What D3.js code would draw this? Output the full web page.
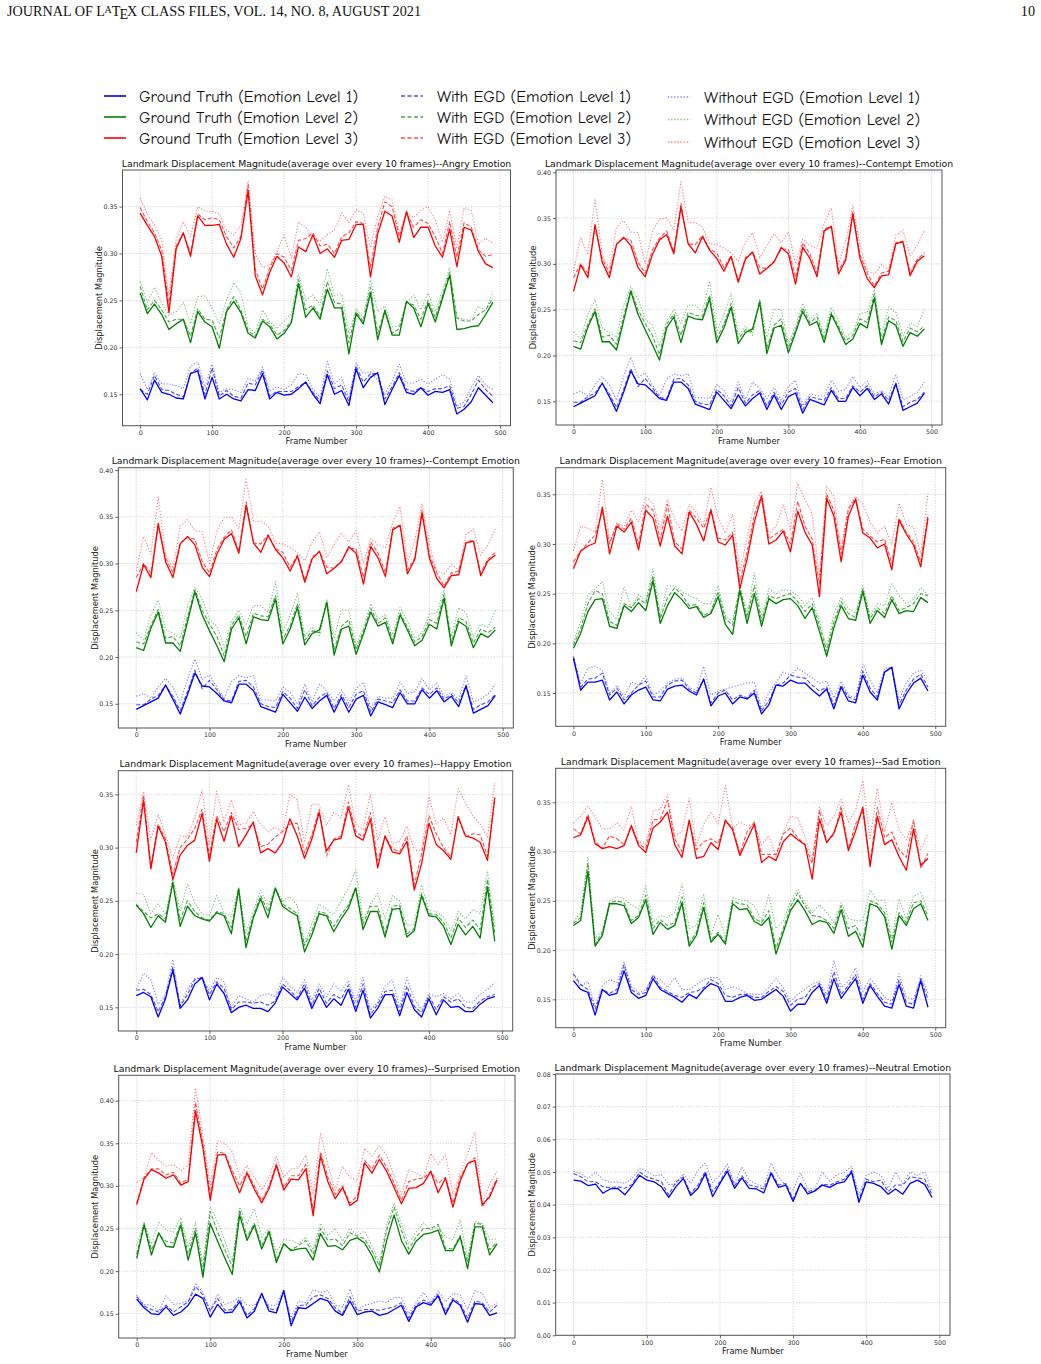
<!DOCTYPE html>
<html>
<head>
<meta charset="utf-8">
<script src="https://cdn.jsdelivr.net/npm/d3@7"></script>
<style>
  body { margin: 0; background: #fff; }
  svg { display: block; }
</style>
</head>
<body>
<svg id="fig" width="1041" height="1364"></svg>
<script>
// frame numbers (one point every 10 frames)
const frames = [0,10,20,30,40,50,60,70,80,90,100,110,120,130,140,150,160,170,180,190,200,210,220,230,240,250,260,270,280,290,300,310,320,330,340,350,360,370,380,390,400,410,420,430,440,450,460,470,480,490];
const xTicks = [0, 100, 200, 300, 400, 500];
const yTicks35 = [0.15, 0.20, 0.25, 0.30, 0.35];
const yTicks40 = [0.15, 0.20, 0.25, 0.30, 0.35, 0.40];
const yTicksNeutral = [0.00, 0.01, 0.02, 0.03, 0.04, 0.05, 0.06, 0.07, 0.08];

const legendLabels = [
  ["Ground Truth (Emotion Level 1)", "Ground Truth (Emotion Level 2)", "Ground Truth (Emotion Level 3)"],
  ["With EGD (Emotion Level 1)", "With EGD (Emotion Level 2)", "With EGD (Emotion Level 3)"],
  ["Without EGD (Emotion Level 1)", "Without EGD (Emotion Level 2)", "Without EGD (Emotion Level 3)"]
];

// ---- Angry
const angryTruth1 = [0.156,0.144,0.165,0.152,0.150,0.146,0.145,0.172,0.175,0.145,0.168,0.145,0.150,0.145,0.143,0.155,0.154,0.172,0.145,0.152,0.149,0.150,0.156,0.163,0.150,0.140,0.171,0.150,0.154,0.138,0.177,0.157,0.168,0.173,0.139,0.155,0.170,0.152,0.150,0.157,0.149,0.153,0.152,0.155,0.129,0.134,0.142,0.157,0.149,0.141];
const angryWith1 = [0.155,0.150,0.170,0.155,0.154,0.150,0.147,0.172,0.178,0.150,0.178,0.148,0.154,0.148,0.146,0.162,0.160,0.176,0.148,0.153,0.153,0.153,0.158,0.163,0.152,0.143,0.175,0.156,0.160,0.142,0.180,0.163,0.172,0.172,0.145,0.158,0.173,0.155,0.153,0.157,0.153,0.156,0.156,0.159,0.135,0.137,0.150,0.165,0.155,0.148];
const angryWithout1 = [0.172,0.155,0.173,0.161,0.161,0.159,0.156,0.180,0.184,0.158,0.182,0.152,0.156,0.155,0.152,0.167,0.164,0.179,0.153,0.158,0.155,0.160,0.172,0.171,0.155,0.147,0.185,0.161,0.168,0.146,0.183,0.172,0.174,0.165,0.150,0.164,0.182,0.162,0.162,0.166,0.161,0.166,0.171,0.166,0.137,0.142,0.157,0.170,0.160,0.155];
const angryTruth2 = [0.258,0.236,0.246,0.235,0.219,0.225,0.230,0.205,0.238,0.227,0.222,0.199,0.238,0.249,0.237,0.215,0.210,0.228,0.222,0.209,0.215,0.226,0.268,0.232,0.242,0.230,0.262,0.242,0.242,0.193,0.236,0.225,0.258,0.208,0.239,0.213,0.213,0.249,0.242,0.222,0.247,0.227,0.252,0.277,0.219,0.220,0.222,0.223,0.235,0.248];
const angryWith2 = [0.265,0.240,0.250,0.240,0.227,0.230,0.230,0.212,0.241,0.230,0.229,0.210,0.240,0.254,0.240,0.218,0.212,0.230,0.225,0.213,0.218,0.228,0.272,0.240,0.245,0.233,0.270,0.248,0.246,0.205,0.238,0.228,0.264,0.215,0.240,0.215,0.220,0.248,0.245,0.230,0.250,0.232,0.255,0.280,0.231,0.228,0.228,0.235,0.240,0.252];
const angryWithout2 = [0.270,0.248,0.264,0.247,0.234,0.238,0.248,0.225,0.254,0.255,0.242,0.225,0.250,0.269,0.258,0.222,0.215,0.240,0.227,0.220,0.228,0.236,0.278,0.250,0.256,0.245,0.284,0.255,0.257,0.215,0.241,0.232,0.272,0.238,0.244,0.222,0.223,0.248,0.256,0.240,0.258,0.238,0.260,0.285,0.232,0.230,0.230,0.244,0.239,0.259];
const angryTruth3 = [0.343,0.330,0.318,0.297,0.237,0.305,0.322,0.297,0.340,0.330,0.330,0.331,0.310,0.296,0.316,0.367,0.276,0.256,0.280,0.297,0.290,0.275,0.307,0.302,0.320,0.300,0.305,0.296,0.314,0.315,0.331,0.331,0.275,0.321,0.345,0.340,0.312,0.345,0.317,0.328,0.328,0.308,0.296,0.326,0.286,0.328,0.325,0.302,0.289,0.285];
const angryWith3 = [0.349,0.334,0.322,0.303,0.245,0.308,0.322,0.300,0.342,0.336,0.338,0.336,0.318,0.306,0.318,0.373,0.283,0.262,0.285,0.300,0.296,0.282,0.314,0.316,0.322,0.308,0.310,0.300,0.318,0.322,0.334,0.332,0.285,0.328,0.355,0.350,0.318,0.343,0.328,0.336,0.332,0.318,0.300,0.334,0.296,0.333,0.328,0.304,0.297,0.299];
const angryWithout3 = [0.359,0.342,0.330,0.315,0.255,0.315,0.334,0.318,0.350,0.345,0.345,0.342,0.325,0.320,0.330,0.377,0.300,0.285,0.288,0.302,0.320,0.295,0.334,0.328,0.316,0.313,0.320,0.325,0.343,0.333,0.347,0.343,0.306,0.340,0.361,0.357,0.322,0.344,0.338,0.346,0.350,0.336,0.312,0.346,0.305,0.349,0.346,0.310,0.316,0.311];

// ---- Contempt
const contemptTruth1 = [0.144,0.148,0.152,0.156,0.170,0.155,0.139,0.160,0.183,0.169,0.168,0.161,0.153,0.151,0.171,0.171,0.164,0.147,0.144,0.141,0.160,0.151,0.142,0.157,0.145,0.153,0.159,0.141,0.157,0.141,0.155,0.159,0.137,0.152,0.149,0.146,0.162,0.150,0.150,0.165,0.156,0.164,0.152,0.158,0.147,0.169,0.140,0.144,0.148,0.159];
const contemptWith1 = [0.149,0.149,0.155,0.159,0.170,0.158,0.143,0.163,0.186,0.166,0.175,0.165,0.154,0.153,0.174,0.175,0.168,0.150,0.147,0.146,0.163,0.156,0.145,0.165,0.148,0.157,0.162,0.145,0.160,0.146,0.160,0.164,0.141,0.155,0.153,0.151,0.165,0.153,0.153,0.167,0.160,0.167,0.155,0.160,0.151,0.170,0.144,0.149,0.152,0.160];
const contemptWithout1 = [0.158,0.161,0.156,0.168,0.177,0.168,0.151,0.177,0.198,0.176,0.181,0.168,0.156,0.174,0.180,0.178,0.180,0.154,0.154,0.153,0.168,0.162,0.150,0.171,0.152,0.171,0.164,0.153,0.165,0.151,0.166,0.173,0.145,0.158,0.156,0.156,0.173,0.161,0.163,0.177,0.165,0.172,0.158,0.162,0.155,0.180,0.152,0.155,0.160,0.171];
const contemptTruth2 = [0.210,0.207,0.231,0.248,0.215,0.215,0.206,0.238,0.270,0.245,0.228,0.212,0.195,0.230,0.242,0.214,0.243,0.240,0.239,0.262,0.214,0.230,0.253,0.213,0.225,0.229,0.258,0.202,0.230,0.233,0.203,0.225,0.248,0.233,0.237,0.214,0.245,0.229,0.212,0.218,0.235,0.230,0.263,0.212,0.238,0.233,0.210,0.225,0.221,0.229];
const contemptWith2 = [0.216,0.214,0.234,0.251,0.220,0.222,0.212,0.243,0.272,0.250,0.235,0.222,0.201,0.234,0.245,0.222,0.247,0.244,0.243,0.266,0.219,0.234,0.257,0.218,0.228,0.226,0.260,0.208,0.233,0.240,0.208,0.228,0.252,0.236,0.242,0.218,0.247,0.232,0.216,0.222,0.240,0.236,0.267,0.216,0.242,0.238,0.215,0.230,0.226,0.232];
const contemptWithout2 = [0.226,0.218,0.245,0.261,0.230,0.225,0.220,0.255,0.275,0.262,0.240,0.233,0.210,0.238,0.250,0.235,0.255,0.255,0.248,0.281,0.226,0.245,0.268,0.222,0.232,0.222,0.262,0.220,0.251,0.250,0.213,0.232,0.257,0.240,0.246,0.224,0.253,0.238,0.220,0.226,0.246,0.247,0.272,0.222,0.253,0.247,0.222,0.235,0.232,0.250];
const contemptTruth3 = [0.270,0.299,0.285,0.343,0.302,0.285,0.321,0.329,0.320,0.296,0.286,0.310,0.326,0.332,0.311,0.362,0.322,0.312,0.330,0.315,0.306,0.292,0.308,0.280,0.305,0.313,0.289,0.295,0.302,0.318,0.311,0.278,0.318,0.306,0.286,0.336,0.341,0.289,0.304,0.354,0.306,0.284,0.274,0.287,0.288,0.322,0.324,0.287,0.303,0.309];
const contemptWith3 = [0.285,0.300,0.290,0.340,0.306,0.290,0.322,0.328,0.326,0.302,0.290,0.315,0.328,0.336,0.313,0.366,0.322,0.321,0.331,0.316,0.312,0.296,0.309,0.282,0.307,0.313,0.296,0.295,0.303,0.316,0.316,0.285,0.323,0.311,0.290,0.338,0.341,0.293,0.306,0.357,0.310,0.290,0.276,0.290,0.292,0.323,0.325,0.290,0.305,0.312];
const contemptWithout3 = [0.292,0.329,0.310,0.371,0.310,0.295,0.340,0.347,0.335,0.334,0.300,0.335,0.349,0.350,0.337,0.390,0.345,0.345,0.340,0.322,0.321,0.317,0.312,0.303,0.323,0.334,0.307,0.320,0.333,0.323,0.335,0.300,0.327,0.320,0.317,0.344,0.361,0.300,0.325,0.364,0.320,0.292,0.289,0.299,0.293,0.331,0.337,0.309,0.320,0.337];

// ---- Fear
const fearTruth1 = [0.185,0.153,0.161,0.161,0.163,0.143,0.151,0.139,0.148,0.153,0.156,0.143,0.142,0.154,0.157,0.158,0.152,0.148,0.164,0.137,0.147,0.150,0.139,0.146,0.144,0.150,0.129,0.138,0.158,0.157,0.163,0.160,0.160,0.153,0.147,0.154,0.134,0.156,0.142,0.140,0.168,0.151,0.143,0.171,0.176,0.134,0.149,0.160,0.165,0.152];
const fearWith1 = [0.186,0.156,0.164,0.165,0.170,0.148,0.155,0.143,0.150,0.158,0.162,0.146,0.146,0.158,0.162,0.163,0.154,0.150,0.164,0.140,0.150,0.153,0.143,0.148,0.145,0.153,0.132,0.142,0.158,0.160,0.168,0.166,0.165,0.158,0.152,0.156,0.138,0.158,0.146,0.143,0.172,0.155,0.146,0.171,0.176,0.138,0.153,0.164,0.169,0.156];
const fearWithout1 = [0.187,0.160,0.175,0.177,0.173,0.150,0.158,0.146,0.161,0.158,0.167,0.148,0.152,0.160,0.164,0.165,0.156,0.152,0.177,0.148,0.152,0.154,0.156,0.158,0.160,0.161,0.134,0.150,0.161,0.171,0.168,0.175,0.170,0.165,0.160,0.162,0.145,0.162,0.148,0.145,0.179,0.163,0.150,0.175,0.176,0.143,0.160,0.170,0.173,0.163];
const fearTruth2 = [0.195,0.210,0.232,0.244,0.245,0.217,0.215,0.238,0.232,0.241,0.233,0.263,0.220,0.238,0.251,0.244,0.235,0.237,0.226,0.230,0.247,0.219,0.209,0.253,0.220,0.250,0.217,0.245,0.240,0.244,0.245,0.238,0.225,0.236,0.212,0.187,0.216,0.238,0.225,0.223,0.252,0.220,0.233,0.226,0.244,0.230,0.233,0.232,0.246,0.241];
const fearWith2 = [0.198,0.215,0.240,0.253,0.250,0.222,0.218,0.240,0.236,0.245,0.240,0.268,0.225,0.246,0.256,0.249,0.238,0.239,0.228,0.232,0.252,0.225,0.218,0.256,0.226,0.258,0.222,0.248,0.245,0.248,0.250,0.242,0.232,0.240,0.218,0.192,0.222,0.242,0.230,0.226,0.255,0.225,0.236,0.230,0.248,0.233,0.236,0.240,0.250,0.248];
const fearWithout2 = [0.201,0.222,0.248,0.255,0.262,0.232,0.224,0.257,0.236,0.249,0.243,0.275,0.228,0.258,0.258,0.252,0.248,0.245,0.240,0.240,0.258,0.228,0.222,0.258,0.228,0.271,0.226,0.255,0.250,0.254,0.253,0.248,0.238,0.246,0.222,0.196,0.230,0.246,0.235,0.230,0.258,0.228,0.240,0.238,0.260,0.248,0.240,0.244,0.256,0.249];
const fearTruth3 = [0.275,0.293,0.298,0.301,0.337,0.290,0.318,0.312,0.322,0.294,0.334,0.326,0.298,0.328,0.298,0.290,0.332,0.320,0.303,0.334,0.302,0.299,0.309,0.255,0.285,0.322,0.348,0.300,0.304,0.313,0.292,0.333,0.312,0.299,0.247,0.346,0.328,0.282,0.328,0.345,0.311,0.306,0.296,0.300,0.274,0.324,0.310,0.299,0.277,0.326];
const fearWith3 = [0.282,0.293,0.301,0.309,0.333,0.300,0.320,0.315,0.326,0.300,0.340,0.334,0.305,0.340,0.302,0.295,0.334,0.326,0.316,0.335,0.306,0.304,0.312,0.262,0.292,0.330,0.349,0.305,0.310,0.315,0.300,0.343,0.318,0.305,0.260,0.350,0.334,0.290,0.335,0.346,0.315,0.308,0.302,0.305,0.280,0.326,0.312,0.302,0.282,0.330];
const fearWithout3 = [0.293,0.318,0.316,0.312,0.365,0.302,0.321,0.318,0.334,0.322,0.347,0.341,0.314,0.345,0.325,0.313,0.340,0.332,0.320,0.357,0.327,0.311,0.330,0.272,0.306,0.341,0.353,0.310,0.318,0.340,0.315,0.361,0.345,0.330,0.268,0.358,0.348,0.295,0.337,0.348,0.340,0.322,0.311,0.318,0.300,0.341,0.320,0.317,0.290,0.351];

// ---- Happy
const happyTruth1 = [0.161,0.164,0.160,0.141,0.158,0.185,0.149,0.157,0.172,0.178,0.157,0.172,0.163,0.145,0.150,0.152,0.149,0.149,0.146,0.154,0.169,0.163,0.157,0.168,0.149,0.163,0.150,0.158,0.152,0.167,0.146,0.166,0.140,0.149,0.162,0.162,0.142,0.164,0.148,0.141,0.158,0.143,0.157,0.150,0.151,0.146,0.146,0.153,0.158,0.160];
const happyWith1 = [0.166,0.167,0.162,0.146,0.160,0.188,0.151,0.162,0.176,0.178,0.162,0.174,0.168,0.148,0.155,0.155,0.154,0.155,0.152,0.156,0.172,0.166,0.159,0.172,0.152,0.168,0.154,0.162,0.158,0.171,0.150,0.172,0.143,0.153,0.165,0.166,0.146,0.170,0.151,0.145,0.161,0.148,0.160,0.155,0.158,0.150,0.149,0.156,0.160,0.162];
const happyWithout1 = [0.167,0.182,0.176,0.153,0.162,0.195,0.152,0.167,0.177,0.178,0.166,0.178,0.174,0.150,0.161,0.158,0.155,0.161,0.163,0.160,0.178,0.170,0.164,0.176,0.157,0.172,0.160,0.172,0.165,0.175,0.156,0.178,0.147,0.155,0.170,0.176,0.150,0.178,0.158,0.148,0.163,0.160,0.163,0.158,0.163,0.155,0.155,0.162,0.167,0.173];
const happyTruth2 = [0.246,0.238,0.225,0.236,0.230,0.267,0.226,0.245,0.236,0.233,0.231,0.239,0.236,0.219,0.261,0.206,0.234,0.252,0.234,0.262,0.245,0.240,0.236,0.202,0.218,0.238,0.236,0.221,0.233,0.243,0.262,0.223,0.240,0.240,0.216,0.242,0.243,0.216,0.222,0.255,0.236,0.235,0.226,0.209,0.228,0.218,0.226,0.215,0.263,0.212];
const happyWith2 = [0.247,0.240,0.234,0.238,0.233,0.268,0.232,0.250,0.240,0.234,0.232,0.240,0.238,0.225,0.262,0.212,0.236,0.255,0.240,0.262,0.247,0.243,0.238,0.208,0.222,0.240,0.238,0.226,0.237,0.246,0.263,0.228,0.245,0.245,0.220,0.245,0.246,0.219,0.224,0.257,0.238,0.237,0.230,0.215,0.234,0.225,0.232,0.223,0.270,0.220];
const happyWithout2 = [0.257,0.256,0.238,0.247,0.237,0.272,0.240,0.266,0.248,0.238,0.236,0.255,0.239,0.235,0.262,0.220,0.240,0.260,0.246,0.262,0.250,0.254,0.246,0.210,0.228,0.247,0.242,0.237,0.250,0.262,0.279,0.232,0.247,0.257,0.233,0.255,0.250,0.227,0.228,0.265,0.241,0.240,0.235,0.222,0.240,0.233,0.242,0.238,0.278,0.226];
const happyTruth3 = [0.295,0.344,0.280,0.320,0.305,0.270,0.293,0.302,0.307,0.332,0.287,0.327,0.306,0.330,0.301,0.312,0.324,0.295,0.299,0.295,0.305,0.327,0.311,0.290,0.308,0.333,0.297,0.307,0.309,0.338,0.311,0.307,0.327,0.281,0.311,0.296,0.294,0.306,0.260,0.285,0.323,0.303,0.297,0.289,0.329,0.311,0.309,0.305,0.288,0.347];
const happyWith3 = [0.305,0.349,0.283,0.322,0.308,0.275,0.300,0.308,0.318,0.336,0.293,0.330,0.315,0.333,0.317,0.318,0.322,0.301,0.303,0.310,0.315,0.322,0.323,0.295,0.312,0.336,0.292,0.308,0.311,0.343,0.315,0.310,0.333,0.288,0.310,0.299,0.296,0.311,0.265,0.294,0.330,0.313,0.300,0.291,0.328,0.310,0.313,0.312,0.292,0.346];
const happyWithout3 = [0.321,0.353,0.307,0.331,0.312,0.290,0.311,0.310,0.328,0.354,0.303,0.353,0.324,0.345,0.321,0.323,0.334,0.322,0.315,0.319,0.315,0.350,0.345,0.305,0.341,0.340,0.321,0.333,0.328,0.359,0.322,0.317,0.350,0.307,0.329,0.304,0.306,0.320,0.297,0.298,0.348,0.322,0.328,0.312,0.355,0.342,0.330,0.322,0.310,0.361];

// ---- Sad
const sadTruth1 = [0.169,0.160,0.157,0.134,0.160,0.154,0.156,0.179,0.157,0.151,0.154,0.171,0.160,0.156,0.152,0.147,0.155,0.151,0.160,0.166,0.163,0.148,0.148,0.152,0.154,0.149,0.150,0.155,0.160,0.153,0.138,0.145,0.145,0.157,0.164,0.146,0.171,0.151,0.161,0.171,0.146,0.164,0.153,0.143,0.141,0.165,0.143,0.141,0.169,0.142];
const sadWith1 = [0.176,0.165,0.160,0.140,0.160,0.156,0.160,0.185,0.160,0.155,0.157,0.175,0.162,0.158,0.154,0.152,0.157,0.158,0.162,0.170,0.166,0.154,0.152,0.155,0.155,0.152,0.152,0.158,0.163,0.158,0.144,0.150,0.152,0.162,0.166,0.150,0.178,0.155,0.164,0.175,0.150,0.166,0.156,0.147,0.145,0.170,0.147,0.145,0.171,0.150];
const sadWithout1 = [0.175,0.163,0.168,0.143,0.164,0.170,0.167,0.188,0.163,0.157,0.160,0.173,0.170,0.162,0.172,0.160,0.160,0.165,0.170,0.172,0.172,0.160,0.163,0.160,0.156,0.155,0.155,0.162,0.171,0.162,0.148,0.155,0.160,0.166,0.168,0.155,0.189,0.162,0.168,0.182,0.158,0.171,0.162,0.152,0.148,0.176,0.152,0.150,0.174,0.156];
const sadTruth2 = [0.225,0.230,0.280,0.204,0.215,0.247,0.247,0.245,0.227,0.233,0.251,0.216,0.228,0.221,0.225,0.248,0.204,0.215,0.243,0.208,0.216,0.206,0.247,0.241,0.242,0.229,0.225,0.233,0.196,0.218,0.240,0.251,0.240,0.226,0.230,0.228,0.217,0.241,0.214,0.219,0.203,0.247,0.244,0.234,0.201,0.235,0.225,0.242,0.247,0.230];
const sadWith2 = [0.227,0.233,0.288,0.206,0.218,0.248,0.250,0.248,0.230,0.235,0.256,0.222,0.231,0.225,0.228,0.254,0.207,0.218,0.248,0.210,0.218,0.208,0.250,0.247,0.246,0.232,0.228,0.240,0.202,0.222,0.244,0.258,0.245,0.235,0.234,0.230,0.222,0.245,0.222,0.225,0.210,0.250,0.247,0.238,0.208,0.238,0.228,0.248,0.250,0.235];
const sadWithout2 = [0.229,0.238,0.294,0.212,0.220,0.250,0.254,0.252,0.246,0.242,0.265,0.228,0.235,0.233,0.238,0.267,0.222,0.225,0.257,0.215,0.236,0.213,0.253,0.251,0.250,0.245,0.230,0.256,0.222,0.230,0.249,0.262,0.248,0.238,0.246,0.238,0.228,0.248,0.232,0.230,0.230,0.261,0.250,0.251,0.212,0.252,0.232,0.255,0.258,0.241];
const sadTruth3 = [0.314,0.317,0.335,0.308,0.303,0.305,0.303,0.306,0.326,0.306,0.299,0.324,0.330,0.340,0.307,0.294,0.332,0.293,0.295,0.309,0.302,0.332,0.322,0.296,0.312,0.328,0.289,0.295,0.291,0.310,0.318,0.312,0.307,0.272,0.333,0.309,0.319,0.340,0.301,0.321,0.345,0.285,0.336,0.307,0.312,0.295,0.281,0.323,0.286,0.293];
const sadWith3 = [0.323,0.318,0.338,0.310,0.303,0.316,0.313,0.307,0.327,0.308,0.303,0.332,0.333,0.352,0.313,0.300,0.330,0.302,0.310,0.313,0.308,0.330,0.325,0.298,0.320,0.330,0.297,0.297,0.297,0.318,0.324,0.314,0.307,0.288,0.342,0.310,0.317,0.346,0.303,0.328,0.340,0.288,0.345,0.314,0.320,0.302,0.294,0.332,0.283,0.298];
const sadWithout3 = [0.329,0.336,0.346,0.335,0.323,0.323,0.329,0.322,0.346,0.310,0.308,0.341,0.343,0.358,0.316,0.320,0.354,0.306,0.328,0.340,0.328,0.367,0.324,0.330,0.326,0.328,0.307,0.316,0.295,0.319,0.336,0.334,0.315,0.292,0.345,0.326,0.336,0.353,0.330,0.342,0.372,0.312,0.364,0.320,0.350,0.322,0.312,0.330,0.302,0.318];

// ---- Surprised
const surprisedTruth1 = [0.167,0.157,0.150,0.149,0.158,0.148,0.152,0.160,0.173,0.168,0.146,0.161,0.151,0.152,0.164,0.145,0.153,0.174,0.153,0.151,0.177,0.136,0.157,0.156,0.162,0.168,0.165,0.153,0.148,0.165,0.149,0.152,0.153,0.148,0.150,0.155,0.160,0.141,0.158,0.163,0.160,0.171,0.149,0.166,0.160,0.140,0.162,0.161,0.148,0.151];
const surprisedWith1 = [0.170,0.159,0.155,0.152,0.160,0.152,0.158,0.164,0.182,0.172,0.153,0.168,0.154,0.155,0.167,0.148,0.156,0.173,0.156,0.154,0.176,0.140,0.160,0.160,0.170,0.172,0.168,0.157,0.150,0.170,0.153,0.155,0.155,0.154,0.156,0.158,0.163,0.145,0.160,0.166,0.162,0.173,0.152,0.168,0.162,0.145,0.165,0.163,0.152,0.160];
const surprisedWithout1 = [0.172,0.161,0.160,0.153,0.171,0.161,0.162,0.165,0.186,0.175,0.154,0.173,0.161,0.164,0.170,0.160,0.160,0.170,0.160,0.160,0.179,0.145,0.165,0.163,0.178,0.175,0.177,0.160,0.158,0.179,0.155,0.160,0.162,0.165,0.163,0.169,0.169,0.150,0.163,0.175,0.163,0.177,0.164,0.174,0.172,0.155,0.177,0.174,0.157,0.163];
const surprisedTruth2 = [0.215,0.254,0.219,0.245,0.229,0.228,0.254,0.213,0.245,0.193,0.256,0.235,0.215,0.196,0.266,0.236,0.254,0.226,0.246,0.210,0.232,0.224,0.226,0.227,0.213,0.244,0.229,0.230,0.225,0.236,0.239,0.233,0.218,0.199,0.236,0.266,0.236,0.220,0.235,0.243,0.245,0.248,0.224,0.224,0.240,0.203,0.252,0.252,0.219,0.232];
const surprisedWith2 = [0.220,0.256,0.225,0.243,0.235,0.233,0.257,0.220,0.250,0.200,0.270,0.246,0.225,0.205,0.272,0.240,0.256,0.230,0.248,0.213,0.232,0.225,0.230,0.236,0.220,0.250,0.236,0.238,0.230,0.245,0.241,0.238,0.224,0.206,0.248,0.275,0.248,0.226,0.240,0.250,0.250,0.255,0.227,0.226,0.242,0.210,0.256,0.255,0.225,0.234];
const surprisedWithout2 = [0.230,0.257,0.232,0.257,0.248,0.246,0.263,0.228,0.257,0.208,0.276,0.258,0.235,0.212,0.275,0.255,0.273,0.240,0.250,0.222,0.237,0.236,0.232,0.240,0.225,0.256,0.242,0.250,0.235,0.250,0.242,0.247,0.230,0.210,0.255,0.280,0.255,0.232,0.246,0.257,0.248,0.253,0.240,0.237,0.260,0.215,0.258,0.256,0.237,0.238];
const surprisedTruth3 = [0.278,0.308,0.319,0.315,0.309,0.313,0.301,0.305,0.388,0.345,0.283,0.336,0.337,0.313,0.292,0.315,0.296,0.280,0.297,0.324,0.295,0.308,0.307,0.320,0.265,0.335,0.305,0.285,0.298,0.277,0.283,0.327,0.315,0.331,0.317,0.298,0.279,0.297,0.298,0.303,0.317,0.292,0.309,0.275,0.306,0.326,0.330,0.278,0.287,0.307];
const surprisedWith3 = [0.280,0.310,0.320,0.320,0.313,0.316,0.303,0.308,0.398,0.350,0.290,0.340,0.338,0.318,0.300,0.317,0.300,0.283,0.300,0.326,0.298,0.312,0.312,0.325,0.272,0.340,0.310,0.290,0.300,0.280,0.288,0.330,0.320,0.336,0.322,0.303,0.283,0.305,0.308,0.309,0.317,0.303,0.310,0.280,0.310,0.326,0.333,0.275,0.290,0.309];
const surprisedWithout3 = [0.304,0.310,0.339,0.330,0.323,0.325,0.318,0.325,0.415,0.360,0.300,0.353,0.350,0.340,0.310,0.324,0.310,0.295,0.310,0.335,0.310,0.320,0.321,0.336,0.290,0.362,0.325,0.295,0.323,0.310,0.306,0.344,0.335,0.347,0.336,0.312,0.290,0.319,0.315,0.310,0.338,0.325,0.337,0.290,0.315,0.338,0.363,0.280,0.302,0.317];

// ---- Neutral (level 1 only)
const neutralTruth1 = [0.0475,0.0472,0.0458,0.0463,0.0435,0.0448,0.0450,0.0430,0.0458,0.0490,0.0475,0.0470,0.0455,0.0422,0.0455,0.0480,0.0428,0.0450,0.0495,0.0425,0.0465,0.0502,0.0450,0.0482,0.0450,0.0448,0.0436,0.0496,0.0453,0.0460,0.0410,0.0465,0.0433,0.0442,0.0460,0.0453,0.0465,0.0470,0.0500,0.0407,0.0470,0.0465,0.0455,0.0432,0.0448,0.0432,0.0465,0.0475,0.0462,0.0422];
const neutralWith1 = [0.0495,0.0485,0.0470,0.0470,0.0455,0.0452,0.0455,0.0450,0.0462,0.0500,0.0485,0.0478,0.0470,0.0430,0.0470,0.0485,0.0435,0.0460,0.0502,0.0440,0.0470,0.0510,0.0458,0.0488,0.0460,0.0455,0.0448,0.0500,0.0460,0.0465,0.0418,0.0465,0.0440,0.0445,0.0462,0.0460,0.0470,0.0478,0.0505,0.0415,0.0478,0.0470,0.0475,0.0440,0.0460,0.0460,0.0485,0.0482,0.0478,0.0430];
const neutralWithout1 = [0.0502,0.0495,0.0480,0.0500,0.0478,0.0468,0.0470,0.0465,0.0480,0.0512,0.0502,0.0488,0.0492,0.0462,0.0462,0.0495,0.0465,0.0505,0.0527,0.0468,0.0490,0.0524,0.0465,0.0515,0.0475,0.0462,0.0455,0.0527,0.0485,0.0460,0.0445,0.0497,0.0450,0.0450,0.0500,0.0472,0.0492,0.0498,0.0518,0.0430,0.0490,0.0500,0.0490,0.0450,0.0500,0.0465,0.0500,0.0490,0.0500,0.0440];

// ---------------------------------------------------------------------------
const levelColors = ["#0000ff", "#008000", "#ff0000"];
const styles = [
  { dash: null, opacity: 1, width: 1.3 },       // ground truth
  { dash: "4,2", opacity: 0.7, width: 1.1 },    // with EGD
  { dash: "1.2,1.8", opacity: 0.5, width: 1.1 } // without EGD
];

const panels = [
  { name: "Angry", box: [122.5, 170, 510.5, 425.7], yDomain: [0.1165, 0.389], yTicks: yTicks35,
    series: [[angryTruth1, angryWith1, angryWithout1], [angryTruth2, angryWith2, angryWithout2], [angryTruth3, angryWith3, angryWithout3]] },
  { name: "Contempt", box: [556, 170, 942, 425], yDomain: [0.1241, 0.4025], yTicks: yTicks40,
    series: [[contemptTruth1, contemptWith1, contemptWithout1], [contemptTruth2, contemptWith2, contemptWithout2], [contemptTruth3, contemptWith3, contemptWithout3]] },
  { name: "Contempt", box: [118.3, 467.7, 513.3, 728], yDomain: [0.1241, 0.4025], yTicks: yTicks40,
    series: [[contemptTruth1, contemptWith1, contemptWithout1], [contemptTruth2, contemptWith2, contemptWithout2], [contemptTruth3, contemptWith3, contemptWithout3]] },
  { name: "Fear", box: [555.7, 467.7, 945.7, 726.3], yDomain: [0.1165, 0.3768], yTicks: yTicks35,
    series: [[fearTruth1, fearWith1, fearWithout1], [fearTruth2, fearWith2, fearWithout2], [fearTruth3, fearWith3, fearWithout3]] },
  { name: "Happy", box: [118.3, 770.7, 512.7, 1031], yDomain: [0.1278, 0.3722], yTicks: yTicks35,
    series: [[happyTruth1, happyWith1, happyWithout1], [happyTruth2, happyWith2, happyWithout2], [happyTruth3, happyWith3, happyWithout3]] },
  { name: "Sad", box: [555.7, 768.3, 945.7, 1027.7], yDomain: [0.1212, 0.3845], yTicks: yTicks35,
    series: [[sadTruth1, sadWith1, sadWithout1], [sadTruth2, sadWith2, sadWithout2], [sadTruth3, sadWith3, sadWithout3]] },
  { name: "Surprised", box: [118.7, 1075.3, 515, 1338], yDomain: [0.1215, 0.4298], yTicks: yTicks40,
    series: [[surprisedTruth1, surprisedWith1, surprisedWithout1], [surprisedTruth2, surprisedWith2, surprisedWithout2], [surprisedTruth3, surprisedWith3, surprisedWithout3]] },
  { name: "Neutral", box: [555.7, 1074, 950, 1335.3], yDomain: [0, 0.08], yTicks: yTicksNeutral,
    series: [[neutralTruth1, neutralWith1, neutralWithout1]] }
];

const svg = d3.select("#fig");
const font = "'DejaVu Sans', sans-serif";

// page header (LaTeX logo built from tspans)
const serif = "'Liberation Serif', 'Times New Roman', serif";
const header = svg.append("text")
  .attr("x", 7).attr("y", 16)
  .attr("font-family", serif).attr("font-size", 14.2).attr("fill", "#111");
header.append("tspan").text("JOURNAL OF L");
header.append("tspan").attr("font-size", 10).attr("dx", -0.5).attr("dy", -3).text("A");
header.append("tspan").attr("dx", 0).attr("dy", 3).text("T");
header.append("tspan").attr("dx", -1).attr("dy", 3).text("E");
header.append("tspan").attr("dx", -1).attr("dy", -3).text("X CLASS FILES, VOL. 14, NO. 8, AUGUST 2021");
svg.append("text")
  .attr("x", 1035).attr("y", 16).attr("text-anchor", "end")
  .attr("font-family", serif).attr("font-size", 14.2).attr("fill", "#111")
  .text("10");

// legend (3 columns: truth / with EGD / without EGD)
const legendCols = [
  { lx: 104, tx: 139, w: 219 },
  { lx: 401, tx: 437, w: 194 },
  { lx: 668, tx: 704, w: 216 }
];
const legendRows = [96, 117, 138];
legendCols.forEach((c, k) => {
  legendRows.forEach((ry, lv) => {
    const yy = ry + (k === 2 ? 1.5 * lv + 1 : 0);
    svg.append("line")
      .attr("x1", c.lx).attr("x2", c.lx + 22).attr("y1", yy).attr("y2", yy)
      .attr("stroke", levelColors[lv]).attr("stroke-width", 1.6)
      .attr("stroke-opacity", styles[k].opacity)
      .attr("stroke-dasharray", k === 0 ? null : (k === 1 ? "4,2.5" : "1.3,1.8"));
    svg.append("text")
      .attr("x", c.tx).attr("y", yy + 5.5)
      .attr("font-family", "'Comic Sans MS', 'Comic Neue', 'Liberation Sans', sans-serif")
      .attr("font-size", 15.5).attr("fill", "#111")
      .attr("textLength", c.w).attr("lengthAdjust", "spacingAndGlyphs")
      .text(legendLabels[k][lv]);
  });
});

// panels
panels.forEach(p => {
  const [x0, y0, x1, y1] = p.box;
  const x = d3.scaleLinear().domain([-24.5, 514.5]).range([x0, x1]);
  const y = d3.scaleLinear().domain(p.yDomain).range([y1, y0]);
  const g = svg.append("g");

  // grid
  g.selectAll(".gx").data(xTicks).join("line")
    .attr("x1", d => x(d)).attr("x2", d => x(d)).attr("y1", y0).attr("y2", y1)
    .attr("stroke", "#c8c8c8").attr("stroke-width", 0.8).attr("stroke-dasharray", "1.2,1.5");
  g.selectAll(".gy").data(p.yTicks).join("line")
    .attr("x1", x0).attr("x2", x1).attr("y1", d => y(d)).attr("y2", d => y(d))
    .attr("stroke", "#c8c8c8").attr("stroke-width", 0.8).attr("stroke-dasharray", "1.2,1.5");

  // series
  const line = d3.line().x((d, i) => x(frames[i])).y(d => y(d));
  p.series.forEach((group, lv) => {
    group.forEach((vals, k) => {
      g.append("path")
        .attr("d", line(vals))
        .attr("fill", "none")
        .attr("stroke", levelColors[lv])
        .attr("stroke-width", styles[k].width)
        .attr("stroke-opacity", styles[k].opacity)
        .attr("stroke-dasharray", styles[k].dash)
        .attr("stroke-linejoin", "round");
    });
  });

  // frame
  g.append("rect")
    .attr("x", x0).attr("y", y0).attr("width", x1 - x0).attr("height", y1 - y0)
    .attr("fill", "none").attr("stroke", "#555").attr("stroke-width", 1);

  // axes
  const xAxis = g.append("g").attr("transform", `translate(0,${y1})`)
    .call(d3.axisBottom(x).tickValues(xTicks).tickSize(3).tickPadding(2).tickFormat(d3.format("d")));
  const yAxis = g.append("g").attr("transform", `translate(${x0},0)`)
    .call(d3.axisLeft(y).tickValues(p.yTicks).tickSize(3).tickPadding(2).tickFormat(d3.format(".2f")));
  [xAxis, yAxis].forEach(a => {
    a.select(".domain").remove();
    a.selectAll(".tick line").attr("stroke", "#444").attr("stroke-width", 0.8);
    a.selectAll(".tick text").attr("font-family", font).attr("font-size", 6.3).attr("fill", "#333");
  });

  // title and labels
  g.append("text")
    .attr("x", (x0 + x1) / 2).attr("y", y0 - 3.5).attr("text-anchor", "middle")
    .attr("font-family", font).attr("font-size", 9.3).attr("fill", "#111")
    .text(`Landmark Displacement Magnitude(average over every 10 frames)--${p.name} Emotion`);
  g.append("text")
    .attr("x", (x0 + x1) / 2).attr("y", y1 + 18.5).attr("text-anchor", "middle")
    .attr("font-family", font).attr("font-size", 8.3).attr("fill", "#222")
    .text("Frame Number");
  g.append("text")
    .attr("transform", `translate(${x0 - 20.5},${(y0 + y1) / 2}) rotate(-90)`)
    .attr("text-anchor", "middle")
    .attr("font-family", font).attr("font-size", 8.3).attr("fill", "#222")
    .text("Displacement Magnitude");
});
</script>
</body>
</html>
